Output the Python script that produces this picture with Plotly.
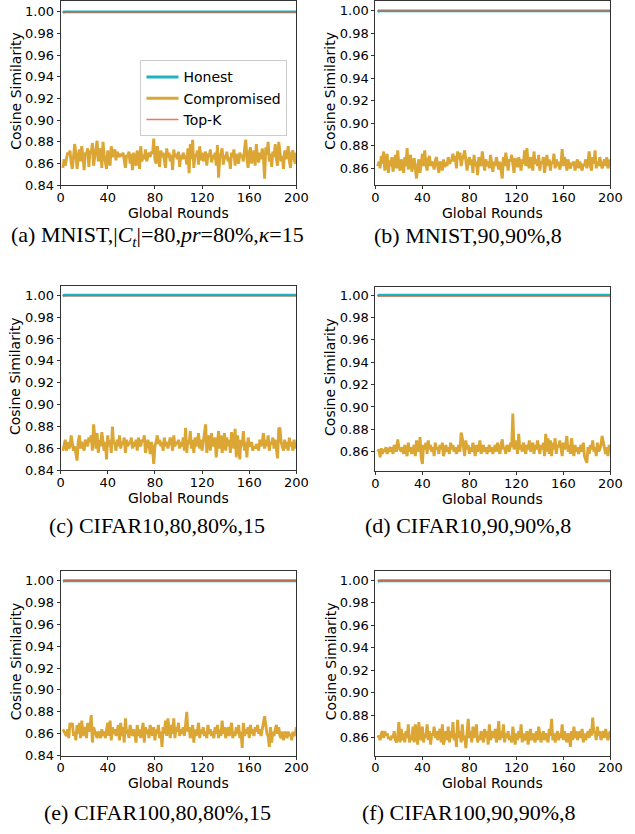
import plotly.graph_objects as go

# ---------------- data ----------------
ROUNDS = list(range(2, 201))  # global rounds shown (2..200)

# Compromised-client cosine similarity (thousandths)
COMP_A = [856,864,858,866,870,868,872,861,855,866,
          878,870,855,865,873,862,876,866,854,870,
          868,874,857,872,869,879,858,866,875,881,
          862,867,874,856,880,868,861,855,872,864,
          858,876,866,870,873,863,871,868,866,869,
          867,870,864,856,868,866,871,860,869,854,
          870,865,858,872,866,855,876,862,868,864,
          873,862,867,870,866,871,869,883,864,860,
          876,868,857,872,866,870,862,856,874,866,
          870,862,868,854,873,866,869,864,871,857,
          868,864,870,866,867,859,874,851,878,864,
          882,856,868,866,872,859,876,863,870,862,
          867,871,858,869,866,873,861,868,864,870,
          858,877,847,866,869,874,859,868,864,871,
          862,866,855,870,866,873,858,869,864,860,
          870,866,868,862,873,882,866,856,870,875,
          860,867,872,858,878,866,861,870,864,874,
          866,846,875,868,880,862,869,857,871,866,
          878,864,858,880,870,862,867,855,872,864,
          868,876,862,856,870,872,864,860,870]
COMP_B = [862,866,860,871,864,875,858,866,873,856,
          867,862,870,857,866,872,860,876,863,858,
          868,864,856,870,862,878,859,866,872,857,
          864,869,860,851,862,868,856,866,873,862,
          876,864,858,868,871,862,866,864,859,867,
          870,862,856,866,864,858,868,861,865,862,
          870,864,866,868,873,866,871,860,875,868,
          874,862,868,871,876,864,858,866,870,863,
          868,856,872,862,866,854,870,866,862,875,
          864,858,868,862,866,860,872,864,857,866,
          862,870,864,859,866,856,851,870,862,874,
          864,858,868,866,872,862,856,869,864,861,
          870,866,858,868,864,876,862,878,864,860,
          870,866,858,875,864,868,862,872,858,866,
          864,870,856,866,872,862,868,858,866,864,
          873,860,868,862,866,859,864,877,862,870,
          866,858,868,862,860,865,863,866,858,864,
          868,860,866,862,858,864,862,868,860,866,
          875,862,858,870,864,876,860,866,862,870,
          866,860,864,868,862,870,860,864,868]
COMP_C = [858,862,868,858,866,860,862,872,866,858,
          862,856,849,866,872,860,866,862,858,868,
          864,862,870,866,872,858,882,866,860,874,
          856,868,862,875,866,858,866,850,872,862,
          868,856,880,864,866,858,868,862,872,860,
          866,864,870,856,868,862,866,864,870,860,
          866,862,868,858,870,864,862,868,866,872,
          856,862,868,864,855,866,860,846,862,866,
          872,864,868,862,866,858,870,862,866,860,
          864,870,866,858,872,862,866,864,868,860,
          866,862,870,858,879,856,868,864,876,860,
          868,856,870,862,866,874,860,868,858,866,
          870,882,856,868,872,858,874,862,866,870,
          852,868,876,860,872,856,866,874,858,870,
          862,868,856,875,866,860,878,852,872,864,
          850,868,862,876,858,866,852,870,864,862,
          866,858,862,860,864,862,858,868,862,866,
          874,860,868,862,872,858,866,864,870,860,
          868,856,851,878,879,866,862,858,868,860,
          866,858,870,862,866,858,868,860,866]
COMP_D = [860,862,855,863,858,862,860,864,858,862,
          863,860,864,858,866,862,860,871,864,862,
          860,864,858,866,862,856,868,860,864,858,
          862,866,856,870,864,860,873,855,849,866,
          862,868,858,870,862,866,860,864,856,868,
          862,864,858,866,862,868,856,862,866,860,
          864,858,868,862,866,860,864,858,862,866,
          860,877,872,864,856,870,862,866,858,864,
          860,868,862,856,866,860,864,870,858,862,
          866,860,864,858,862,866,860,864,858,862,
          866,860,868,862,858,866,871,862,864,858,
          866,862,860,868,864,894,862,866,870,858,
          876,862,866,860,868,864,858,866,862,870,
          860,864,868,858,866,862,870,864,858,866,
          862,868,856,876,860,872,858,870,856,868,
          862,872,858,866,864,870,860,856,868,862,
          866,874,860,866,858,872,862,856,866,860,
          864,858,862,866,860,868,856,852,850,864,
          858,866,862,870,860,864,856,868,860,862,
          866,874,868,862,858,864,856,866,862]
COMP_E = [864,862,860,858,864,856,870,866,870,858,
          862,854,868,860,870,856,872,858,866,864,
          856,870,862,866,877,852,866,862,858,856,
          862,860,856,864,858,862,856,866,870,858,
          872,854,866,860,864,858,862,868,854,870,
          858,866,852,874,860,864,856,868,862,858,
          864,860,852,868,858,864,856,862,870,852,
          866,860,864,856,868,862,858,866,854,864,
          860,868,856,862,848,866,860,872,858,874,
          862,856,868,860,874,856,866,862,870,858,
          864,860,866,858,868,880,862,866,856,862,
          868,852,864,858,862,870,856,864,860,866,
          858,862,856,868,860,864,858,862,856,866,
          860,868,856,864,858,872,860,866,856,862,
          866,858,864,870,856,862,858,866,860,868,
          856,862,847,870,858,864,860,866,856,868,
          860,864,858,866,862,868,860,864,858,866,
          870,876,866,860,858,848,866,852,862,858,
          864,868,860,866,858,856,862,854,862,860,
          856,862,858,860,854,862,858,860,866]
COMP_F = [860,862,858,864,866,860,866,862,864,860,
          860,858,862,860,866,858,856,862,874,856,
          868,858,864,856,866,860,872,856,862,858,
          870,856,872,864,854,874,862,858,870,856,
          864,860,872,858,866,854,864,862,870,860,
          866,858,862,868,856,872,854,860,866,858,
          870,856,866,860,874,858,864,852,876,860,
          866,856,872,858,862,851,868,877,860,866,
          856,870,860,864,872,856,862,858,866,862,
          856,868,860,866,854,872,858,862,866,860,
          868,856,862,875,858,866,860,872,856,864,
          860,866,858,862,856,870,860,854,864,858,
          866,860,872,856,864,858,860,866,854,862,
          868,858,864,860,856,866,858,870,862,856,
          862,866,858,864,860,856,868,862,877,858,
          864,856,862,866,858,864,860,872,858,866,
          860,856,864,862,852,866,858,870,860,866,
          858,862,866,860,868,856,864,858,862,866,
          860,868,862,878,864,866,858,870,862,866,
          858,862,866,860,868,862,858,864,866]

# Honest clients and Top-K selection stay at ~1.0 throughout
# (per panel: Honest level, Top-K level)
HONEST_LEVEL = [1.0, 1.0, 1.0, 1.0, 0.9996, 0.9996]
TOPK_LEVEL = [1.0, 1.0, 0.9993, 0.9993, 1.0, 1.0]
HONEST_FIRST = 0.999

CAPTIONS = [
    "(a) MNIST,|<i>C<sub>t</sub></i>|=80,<i>pr</i>=80%,<i>κ</i>=15",
    "(b) MNIST,90,90%,8",
    "(c) CIFAR10,80,80%,15",
    "(d) CIFAR10,90,90%,8",
    "(e) CIFAR100,80,80%,15",
    "(f) CIFAR100,90,90%,8",
]
COMPROMISED = [COMP_A, COMP_B, COMP_C, COMP_D, COMP_E, COMP_F]
Y_TICKS = [0.84, 0.86, 0.88, 0.90, 0.92, 0.94, 0.96, 0.98, 1.00]
X_TICKS = [0, 40, 80, 120, 160, 200]

# ---------------- layout geometry (pixels) ----------------
W, H = 635, 834
COLS = [(58, 300), (381, 622)]
# (top, bottom, y-range) per panel
PANELS = [
    (1, 187, [0.840, 1.0101]),
    (1, 187, [0.845, 1.0088]),
    (289, 475, [0.840, 1.0081]),
    (290, 476, [0.8423, 1.0071]),
    (577, 763, [0.840, 1.0081]),
    (577, 763, [0.8442, 1.0079]),
]
CAPTION_Y = [238, 238, 531, 531, 820, 820]
CAPTION_X = [157, 476]

C_HONEST = "#1fb3c4"
C_COMP = "#dca634"
C_TOPK = "rgba(228,90,50,0.8)"

TICK_FONT = dict(family="DejaVu Sans", size=13, color="black")
TITLE_FONT = dict(family="DejaVu Sans", size=14, color="black")

fig = go.Figure()
layout = dict(width=W, height=H, margin=dict(l=0, r=0, t=0, b=0),
              paper_bgcolor="white", plot_bgcolor="white", showlegend=True)
annotations = []

for i in range(6):
    col = i % 2
    top, bot, yr = PANELS[i]
    xa = "x" if i == 0 else f"x{i+1}"
    ya = "y" if i == 0 else f"y{i+1}"
    comp = [v / 1000 for v in COMPROMISED[i]]
    honest = [HONEST_FIRST] + [HONEST_LEVEL[i]] * (len(ROUNDS) - 1)
    topk = [TOPK_LEVEL[i]] * len(ROUNDS)
    fig.add_trace(go.Scatter(x=ROUNDS, y=honest, mode="lines", name="Honest",
                             line=dict(color=C_HONEST, width=2.8),
                             xaxis=xa, yaxis=ya, showlegend=(i == 0)))
    fig.add_trace(go.Scatter(x=ROUNDS, y=comp, mode="lines", name="Compromised",
                             line=dict(color=C_COMP, width=2.9),
                             xaxis=xa, yaxis=ya, showlegend=(i == 0)))
    fig.add_trace(go.Scatter(x=ROUNDS, y=topk, mode="lines", name="Top-K",
                             line=dict(color=C_TOPK, width=1.5),
                             xaxis=xa, yaxis=ya, showlegend=(i == 0)))
    x0, x1 = COLS[col]
    axis_common = dict(showline=True, linecolor="#333", linewidth=1, mirror=True,
                       ticks="outside", ticklen=3, tickcolor="#333",
                       showgrid=False, zeroline=False, tickfont=TICK_FONT)
    layout["xaxis" if i == 0 else f"xaxis{i+1}"] = dict(
        domain=[x0 / W, x1 / W], range=[0, 200], tickvals=X_TICKS,
        anchor=ya, ticklabelstandoff=-3, **axis_common)
    layout["yaxis" if i == 0 else f"yaxis{i+1}"] = dict(
        domain=[1 - bot / H, 1 - top / H], range=yr, tickvals=Y_TICKS,
        tickformat=".2f", anchor=xa, **axis_common)
    # axis titles
    annotations.append(dict(text="Global Rounds", xref="paper", yref="paper",
                            x=(x0 + x1) / 2 / W, y=1 - (bot + 28) / H,
                            xanchor="center", yanchor="middle", showarrow=False,
                            font=TITLE_FONT))
    annotations.append(dict(text="Cosine Similarity", xref="paper", yref="paper",
                            x=(x0 - 46) / W, y=1 - ((top + bot) / 2 - 2) / H,
                            xanchor="center", yanchor="middle", showarrow=False,
                            textangle=-90, font=TITLE_FONT))
    annotations.append(dict(text=CAPTIONS[i], xref="paper", yref="paper",
                            x=CAPTION_X[col] / W, y=1 - CAPTION_Y[i] / H,
                            xanchor="center", yanchor="middle", showarrow=False,
                            font=dict(family="Liberation Serif", size=22, color="black")))

layout["annotations"] = annotations
layout["legend"] = dict(x=140 / W, y=1 - 61 / H, xanchor="left", yanchor="top",
                        bgcolor="rgba(255,255,255,0.85)", bordercolor="#cccccc",
                        borderwidth=1, font=dict(family="DejaVu Sans", size=14, color="black"),
                        tracegroupgap=0, itemwidth=32)
fig.update_layout(**layout)
fig.write_html("out.html")
